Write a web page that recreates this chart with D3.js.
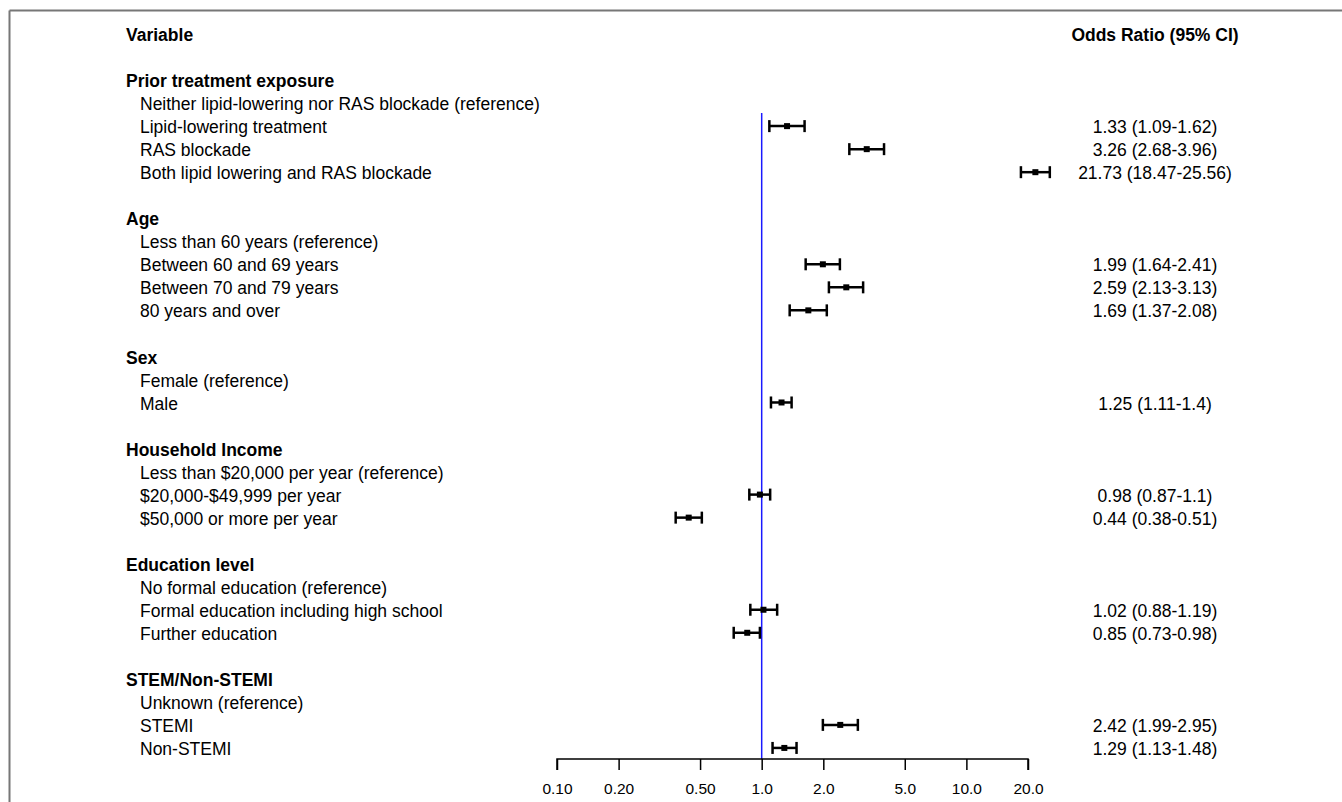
<!DOCTYPE html>
<html>
<head>
<meta charset="utf-8">
<script src="https://cdn.jsdelivr.net/npm/d3@7"></script>
<style>
  html, body { margin: 0; padding: 0; background: #fff; }
  svg { display: block; font-family: "Liberation Sans", Arial, sans-serif; }
</style>
</head>
<body>
<svg id="chart" width="1342" height="802"></svg>
<script>
// Row labels in display order; "" marks a spacer row
const rowLabels = [
  "Variable", "",
  "Prior treatment exposure",
  "Neither lipid-lowering nor RAS blockade (reference)",
  "Lipid-lowering treatment",
  "RAS blockade",
  "Both lipid lowering and RAS blockade", "",
  "Age",
  "Less than 60 years (reference)",
  "Between 60 and 69 years",
  "Between 70 and 79 years",
  "80 years and over", "",
  "Sex",
  "Female (reference)",
  "Male", "",
  "Household Income",
  "Less than $20,000 per year (reference)",
  "$20,000-$49,999 per year",
  "$50,000 or more per year", "",
  "Education level",
  "No formal education (reference)",
  "Formal education including high school",
  "Further education", "",
  "STEM/Non-STEMI",
  "Unknown (reference)",
  "STEMI",
  "Non-STEMI"
];
// h = bold heading, i = indented item, s = spacer
const rowKinds = [
  "h","s",
  "h","i","i","i","i","s",
  "h","i","i","i","i","s",
  "h","i","i","s",
  "h","i","i","i","s",
  "h","i","i","i","s",
  "h","i","i","i"
];
// Odds ratios and 95% CI per row (null where there is no estimate)
const oddsRatio = [
  null,null,
  null,null,1.33,3.26,21.73,null,
  null,null,1.99,2.59,1.69,null,
  null,null,1.25,null,
  null,null,0.98,0.44,null,
  null,null,1.02,0.85,null,
  null,null,2.42,1.29
];
const ciLower = [
  null,null,
  null,null,1.09,2.68,18.47,null,
  null,null,1.64,2.13,1.37,null,
  null,null,1.11,null,
  null,null,0.87,0.38,null,
  null,null,0.88,0.73,null,
  null,null,1.99,1.13
];
const ciUpper = [
  null,null,
  null,null,1.62,3.96,25.56,null,
  null,null,2.41,3.13,2.08,null,
  null,null,1.4,null,
  null,null,1.1,0.51,null,
  null,null,1.19,0.98,null,
  null,null,2.95,1.48
];
const tickValues = [0.1, 0.2, 0.5, 1, 2, 5, 10, 20];
const tickLabels = ["0.10", "0.20", "0.50", "1.0", "2.0", "5.0", "10.0", "20.0"];

const svg = d3.select("#chart");
const fontSize = 17.5;

// Frame lines along the top and left edges
svg.append("line").attr("x1", 9.5).attr("x2", 1342).attr("y1", 10.5).attr("y2", 10.5)
  .attr("stroke", "#777").attr("stroke-width", 2);
svg.append("line").attr("x1", 9.5).attr("x2", 9.5).attr("y1", 10.5).attr("y2", 802)
  .attr("stroke", "#777").attr("stroke-width", 2);

const y = d3.scaleLinear().domain([0, rowLabels.length - 1]).range([35, 35 + 23.03 * (rowLabels.length - 1)]);
const x = d3.scaleLog().domain([0.1, 20]).range([557, 1028]);
const axisY = 759;

// Left column of labels
svg.append("g").selectAll("text")
  .data(rowLabels.map((t, i) => ({ t, i, k: rowKinds[i] })).filter(d => d.k !== "s"))
  .join("text")
  .attr("x", d => d.k === "h" ? 126 : 140)
  .attr("y", d => y(d.i))
  .attr("dy", "0.35em")
  .attr("font-size", fontSize)
  .attr("font-weight", d => d.k === "h" ? "bold" : "normal")
  .attr("fill", "#000")
  .text(d => d.t);

// Right column header
svg.append("text")
  .attr("x", 1155).attr("y", y(0)).attr("dy", "0.35em")
  .attr("text-anchor", "middle").attr("font-size", fontSize).attr("font-weight", "bold")
  .text("Odds Ratio (95% CI)");

// Reference line at OR = 1
svg.append("line")
  .attr("x1", x(1)).attr("x2", x(1))
  .attr("y1", y(3) + 9).attr("y2", axisY)
  .attr("stroke", "#1a1aff").attr("stroke-width", 1.5);

const est = oddsRatio.map((v, i) => ({ v, lo: ciLower[i], hi: ciUpper[i], i })).filter(d => d.v !== null);

const marks = svg.append("g").attr("stroke", "#000").attr("stroke-width", 2.5);
const capH = 6;
est.forEach(d => {
  const cy = y(d.i) - 1;
  marks.append("line").attr("x1", x(d.lo)).attr("x2", x(d.hi)).attr("y1", cy).attr("y2", cy);
  marks.append("line").attr("x1", x(d.lo)).attr("x2", x(d.lo)).attr("y1", cy - capH).attr("y2", cy + capH);
  marks.append("line").attr("x1", x(d.hi)).attr("x2", x(d.hi)).attr("y1", cy - capH).attr("y2", cy + capH);
  marks.append("rect").attr("x", x(d.v) - 3).attr("y", cy - 3).attr("width", 6).attr("height", 6)
    .attr("fill", "#000").attr("stroke", "none");
});

// Value labels
svg.append("g").selectAll("text")
  .data(est).join("text")
  .attr("x", 1155).attr("y", d => y(d.i)).attr("dy", "0.35em")
  .attr("text-anchor", "middle").attr("font-size", fontSize).attr("fill", "#000")
  .text(d => `${d.v} (${d.lo}-${d.hi})`);

// Log axis
const axis = d3.axisBottom(x)
  .tickValues(tickValues)
  .tickSize(11)
  .tickFormat((d, i) => tickLabels[i]);
const ag = svg.append("g").attr("transform", `translate(0,${axisY})`).call(axis);
ag.select(".domain").attr("stroke", "#000").attr("stroke-width", 1.5).attr("d", `M${x(0.1)},11V0H${x(20)}V11`);
ag.selectAll(".tick line").attr("stroke", "#000").attr("stroke-width", 1.5);
ag.selectAll(".tick text").attr("font-size", 15.5).attr("fill", "#000")
  .attr("font-family", "'Liberation Sans', Arial, sans-serif").attr("y", 29.5).attr("dy", "0.35em");
</script>
</body>
</html>
